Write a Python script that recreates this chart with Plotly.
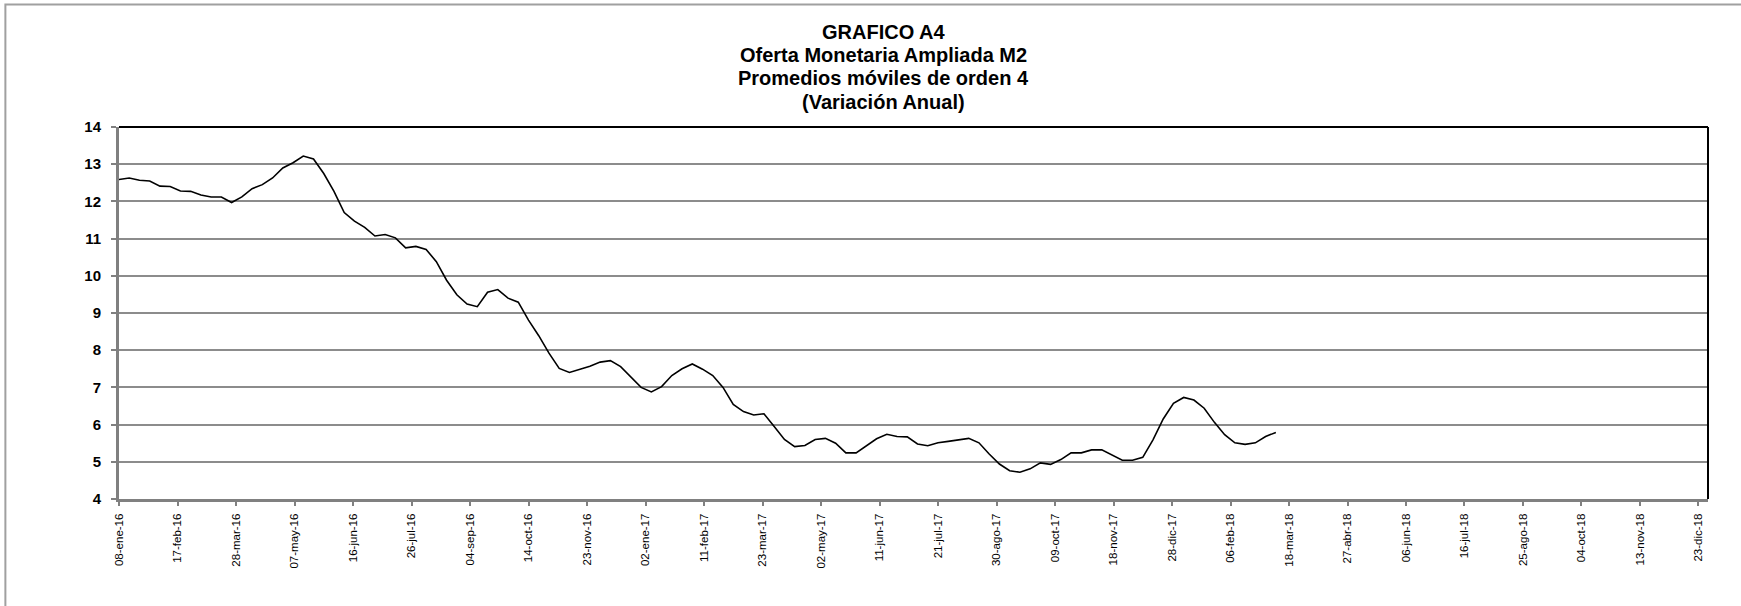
"""
GRAFICO A4 - Oferta Monetaria Ampliada M2, promedios moviles de orden 4.
"""
import pandas as pd
import plotly.graph_objects as go

# weekly observations starting 08-ene-16
start_date = "2016-01-08"
m2_var = [
    12.59, 12.63, 12.57, 12.55, 12.41, 12.40, 12.28, 12.27, 12.17, 12.12,
    12.12, 11.97, 12.12, 12.34, 12.45, 12.63, 12.90, 13.04, 13.22, 13.14,
    12.75, 12.27, 11.70, 11.47, 11.30, 11.07, 11.11, 11.02, 10.75, 10.79,
    10.71, 10.38, 9.88, 9.49, 9.24, 9.17, 9.56, 9.63, 9.40, 9.29,
    8.81, 8.39, 7.92, 7.51, 7.40, 7.48, 7.57, 7.68, 7.72, 7.56,
    7.27, 7.00, 6.88, 7.02, 7.32, 7.50, 7.63, 7.49, 7.32, 7.00,
    6.54, 6.35, 6.26, 6.29, 5.95, 5.60, 5.41, 5.44, 5.60, 5.63,
    5.50, 5.24, 5.24, 5.42, 5.62, 5.74, 5.68, 5.67, 5.48, 5.43,
    5.51, 5.55, 5.59, 5.63, 5.51, 5.21, 4.94, 4.76, 4.72, 4.81,
    4.97, 4.93, 5.06, 5.24, 5.24, 5.32, 5.32, 5.19, 5.04, 5.04,
    5.12, 5.59, 6.15, 6.57, 6.73, 6.66, 6.44, 6.06, 5.73, 5.51,
    5.47, 5.51, 5.68, 5.79,
]

tick_dates = [
    "2016-01-08", "2016-02-17", "2016-03-28", "2016-05-07", "2016-06-16",
    "2016-07-26", "2016-09-04", "2016-10-14", "2016-11-23", "2017-01-02",
    "2017-02-11", "2017-03-23", "2017-05-02", "2017-06-11", "2017-07-21",
    "2017-08-30", "2017-10-09", "2017-11-18", "2017-12-28", "2018-02-06",
    "2018-03-18", "2018-04-27", "2018-06-06", "2018-07-16", "2018-08-25",
    "2018-10-04", "2018-11-13", "2018-12-23",
]
tick_labels = [
    "08-ene-16", "17-feb-16", "28-mar-16", "07-may-16", "16-jun-16",
    "26-jul-16", "04-sep-16", "14-oct-16", "23-nov-16", "02-ene-17",
    "11-feb-17", "23-mar-17", "02-may-17", "11-jun-17", "21-jul-17",
    "30-ago-17", "09-oct-17", "18-nov-17", "28-dic-17", "06-feb-18",
    "18-mar-18", "27-abr-18", "06-jun-18", "16-jul-18", "25-ago-18",
    "04-oct-18", "13-nov-18", "23-dic-18",
]

title_lines = [
    "GRAFICO A4",
    "Oferta Monetaria Ampliada M2",
    "Promedios móviles de orden 4",
    "(Variación Anual)",
]

FONT = "Arial, Liberation Sans, sans-serif"
dates = pd.date_range(start_date, periods=len(m2_var), freq="7D")

fig = go.Figure()
fig.add_trace(go.Scatter(
    x=dates, y=m2_var,
    mode="lines",
    line=dict(color="black", width=1.6),
    showlegend=False,
))

fig.update_xaxes(
    type="date",
    range=["2016-01-08", "2018-12-29 12:00"],
    tickvals=tick_dates, ticktext=tick_labels,
    tickangle=-90,
    tickfont=dict(family=FONT, size=11.5, color="black"),
    ticks="outside", ticklen=4, tickwidth=2, tickcolor="#808080",
    ticklabelstandoff=3,
    showline=True, linecolor="#808080", linewidth=3,
    showgrid=False, zeroline=False,
)
fig.update_yaxes(
    range=[4, 14], dtick=1,
    tickfont=dict(family=FONT, size=15, color="black", weight="bold"),
    ticks="outside", ticklen=5, tickwidth=2, tickcolor="#808080",
    ticklabelstandoff=7,
    showline=True, linecolor="#808080", linewidth=3,
    showgrid=True, gridcolor="#8c8c8c", gridwidth=1.5,
    zeroline=False,
)

# black top and right frame of the plot area
fig.add_shape(type="line", xref="x domain", yref="y domain",
              x0=0, x1=1, y0=1, y1=1, line=dict(color="black", width=2))
fig.add_shape(type="line", xref="x domain", yref="y domain",
              x0=1, x1=1, y0=0, y1=1, line=dict(color="black", width=2))
# gray outer chart border
fig.add_shape(type="rect", xref="paper", yref="paper",
              x0=-0.0715, x1=1.5, y0=-1.0, y1=1.3296,
              line=dict(color="#a0a0a0", width=2), layer="below")

title_y = [1.255, 1.193, 1.131, 1.067]
for txt, ty in zip(title_lines, title_y):
    fig.add_annotation(
        text=txt, xref="paper", yref="paper", x=0.481, y=ty,
        xanchor="center", yanchor="middle", showarrow=False,
        font=dict(family=FONT, size=20, color="black", weight="bold"),
    )

fig.update_layout(
    width=1741, height=606, autosize=False,
    margin=dict(l=119, r=33, t=127, b=107),
    plot_bgcolor="white", paper_bgcolor="white",
)

# drop the default page margin so the figure sits at the window's corner
fig.write_html("out.html",
               config={"displayModeBar": False},
               post_script="document.body.style.margin='0';document.body.style.overflow='hidden';")
